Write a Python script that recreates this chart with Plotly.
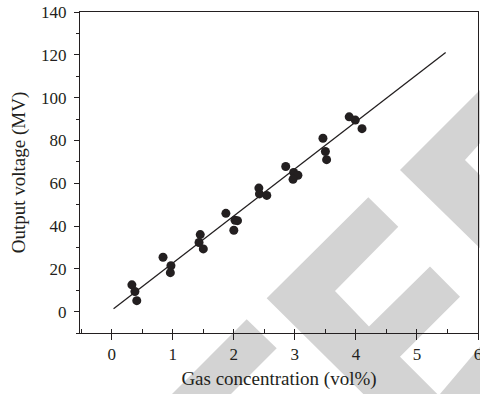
import plotly.graph_objects as go

# ---- data ----
gas_conc = [0.33, 0.38, 0.41, 0.84, 0.97, 0.96, 1.43, 1.45, 1.50, 1.87, 2.00, 2.02, 2.06,
            2.41, 2.42, 2.54, 2.85, 2.98, 3.05, 2.97, 3.46, 3.50, 3.52, 3.89, 3.99, 4.10]
output_voltage = [12.5, 9.4, 5.1, 25.4, 21.4, 18.2, 32.3, 36.0, 29.3, 45.9, 38.0, 42.7, 42.5,
                  57.7, 55.0, 54.3, 67.8, 65.0, 63.7, 61.8, 81.0, 74.8, 71.0, 91.0, 89.5, 85.5]
fit_x = [0.03, 5.47]
fit_y = [1.3, 121.1]

x_ticks = [0, 1, 2, 3, 4, 5, 6]
y_ticks = [0, 20, 40, 60, 80, 100, 120, 140]

# ---- background watermark (decorative, pixel coordinates of the 480x394 canvas) ----
W, H = 480, 394
ML, MR, MT, MB = 80, 2, 12, 61
WATERMARK = [
    [(246.7, 319.3), (276.7, 348.3), (231, 394), (172, 394)],
    [(368.3, 197.3), (398.3, 226.7), (335, 291), (369, 326.5), (430, 266.5), (460, 296.7),
     (400, 356.7), (437.3, 394), (363.3, 394), (266.7, 298.3)],
    [(480, 90), (480, 143.3), (465, 160), (480, 175), (480, 248.3), (400, 170)],
    [(480, 346.7), (440, 394), (480, 394)],
]

def to_paper(px, py):
    return (px - ML) / (W - ML - MR), (H - MB - py) / (H - MT - MB)

shapes = []
for poly in WATERMARK:
    pts = [to_paper(px, py) for px, py in poly]
    path = "M " + " L ".join(f"{x:.4f},{y:.4f}" for x, y in pts) + " Z"
    shapes.append(dict(type="path", xref="paper", yref="paper", path=path,
                       fillcolor="rgb(211,211,211)", line=dict(width=0), layer="below"))

FONT = "Liberation Serif"
INK = "#231f20"
TICK_SIZE = 17
TITLE_SIZE = 19

fig = go.Figure()
fig.add_trace(go.Scatter(x=fit_x, y=fit_y, mode="lines",
                         line=dict(color=INK, width=1.3), showlegend=False))
fig.add_trace(go.Scatter(x=gas_conc, y=output_voltage, mode="markers",
                         marker=dict(color=INK, size=9, line=dict(width=0)), showlegend=False))

fig.update_layout(
    width=W, height=H,
    margin=dict(l=ML, r=MR, t=MT, b=MB, autoexpand=False),
    paper_bgcolor="white", plot_bgcolor="rgba(0,0,0,0)",
    font=dict(family=FONT, size=TICK_SIZE, color=INK),
    shapes=shapes,
)
fig.update_xaxes(
    automargin=False, ticklabeloverflow="allow",
    range=[-0.52, 6], tickmode="array", tickvals=x_ticks, ticktext=[str(v) for v in x_ticks],
    showgrid=False, zeroline=False, showline=True, linecolor=INK, linewidth=1, mirror=True,
    ticks="outside", ticklen=6, tickwidth=1, tickcolor=INK,
    minor=dict(dtick=0.5, tick0=0, ticks="inside", ticklen=4, tickwidth=1, tickcolor=INK, showgrid=False),
    title=dict(text="Gas concentration (vol%)", font=dict(family=FONT, size=TITLE_SIZE, color=INK), standoff=8),
    tickfont=dict(family=FONT, size=TICK_SIZE, color=INK),
)
fig.update_yaxes(
    automargin=False, ticklabeloverflow="allow",
    range=[-10, 140], tickmode="array", tickvals=y_ticks, ticktext=[str(v) for v in y_ticks],
    showgrid=False, zeroline=False, showline=True, linecolor=INK, linewidth=1, mirror=True,
    ticks="outside", ticklen=5, tickwidth=1, tickcolor=INK,
    minor=dict(dtick=10, tick0=0, ticks="outside", ticklen=3, tickwidth=1, tickcolor=INK, showgrid=False),
    title=dict(text="Output voltage (MV)", font=dict(family=FONT, size=TITLE_SIZE, color=INK), standoff=10),
    tickfont=dict(family=FONT, size=TICK_SIZE, color=INK),
    ticklabelstandoff=4,
)

fig.write_html("out.html", config={"displayModeBar": False},
               post_script="document.body.style.margin='0';document.body.style.overflow='hidden';")
